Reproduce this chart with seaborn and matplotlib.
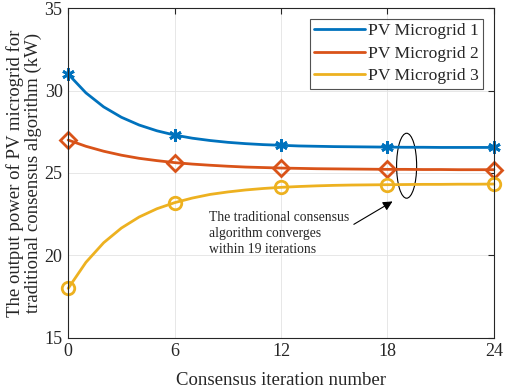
import matplotlib
matplotlib.use("Agg")
import matplotlib.pyplot as plt
import matplotlib.patches as mpatches
from matplotlib.lines import Line2D
import seaborn as sns

iterations = list(range(25))
mg1 = [31.00, 29.86, 29.01, 28.38, 27.91, 27.56, 27.30, 27.11, 26.97, 26.86,
       26.78, 26.72, 26.68, 26.64, 26.62, 26.60, 26.59, 26.58, 26.57, 26.56,
       26.56, 26.55, 26.55, 26.55, 26.55]
mg2 = [27.00, 26.62, 26.32, 26.08, 25.89, 25.75, 25.63, 25.54, 25.47, 25.41,
       25.36, 25.33, 25.30, 25.28, 25.26, 25.25, 25.24, 25.23, 25.22, 25.22,
       25.21, 25.21, 25.20, 25.20, 25.20]
mg3 = [18.00, 19.58, 20.77, 21.66, 22.33, 22.83, 23.20, 23.48, 23.70, 23.85,
       23.97, 24.06, 24.13, 24.18, 24.22, 24.25, 24.27, 24.28, 24.29, 24.30,
       24.31, 24.31, 24.32, 24.32, 24.33]
labels = ["PV Microgrid 1", "PV Microgrid 2", "PV Microgrid 3"]
xticks = [0, 6, 12, 18, 24]
yticks = [15, 20, 25, 30, 35]

sns.set_theme(style="whitegrid")
plt.rcParams["font.family"] = ["Liberation Serif", "DejaVu Serif"]

colors = ["#0072BD", "#D95319", "#EDB120"]
markers = [(6, 2, 0), "D", "o"]
msizes = [9, 8, 9]

fig = plt.figure(figsize=(5.05, 3.87), dpi=100)
ax = fig.add_axes([0.135, 0.127, 0.843, 0.852])

for vals, c, m, ms in zip([mg1, mg2, mg3], colors, markers, msizes):
    sns.lineplot(x=iterations, y=vals, ax=ax, color=c, lw=2, marker=m,
                 markevery=6, ms=ms, markerfacecolor="none",
                 markeredgecolor=c, markeredgewidth=2, clip_on=False)

ax.set_xlim(0, 24)
ax.set_ylim(15, 35)
ax.set_xticks(xticks)
ax.set_yticks(yticks)
ax.tick_params(direction="in", length=4, width=0.8, colors="#262626",
               labelsize=13, top=True, right=True, pad=4)
ax.set_facecolor("white")
ax.grid(True, color="#e3e3e3", lw=0.6)
for s in ax.spines.values():
    s.set_color("#262626")
    s.set_linewidth(0.8)

ax.set_xlabel("Consensus iteration number", fontsize=13.5, labelpad=8)
ax.set_ylabel("The output power of PV microgrid for\ntraditional consensus algorithm (kW)",
              fontsize=13.5, labelpad=2, linespacing=1.05)

handles = [Line2D([0], [0], color=c, lw=2) for c in colors]
leg = ax.legend(handles, labels, loc="upper right", fontsize=12.6,
                frameon=True, fancybox=False, edgecolor="#262626",
                borderpad=0.25, labelspacing=0.36, handlelength=2.9,
                handletextpad=0.2, borderaxespad=0.6)
leg.get_frame().set_linewidth(0.8)

ell = mpatches.Ellipse((19.08, 25.44), 1.13, 3.94, fill=False,
                       edgecolor="black", lw=0.8)
ax.add_patch(ell)
ax.annotate("", xy=(18.42, 23.36), xytext=(15.97, 21.8),
            arrowprops=dict(arrowstyle="-|>", color="black", lw=0.8,
                            mutation_scale=14))
ax.text(7.94, 22.7, "The traditional consensus\nalgorithm converges\nwithin 19 iterations",
        fontsize=9.8, va="top", ha="left", linespacing=1.28)

fig.savefig("out.png", dpi=100)
